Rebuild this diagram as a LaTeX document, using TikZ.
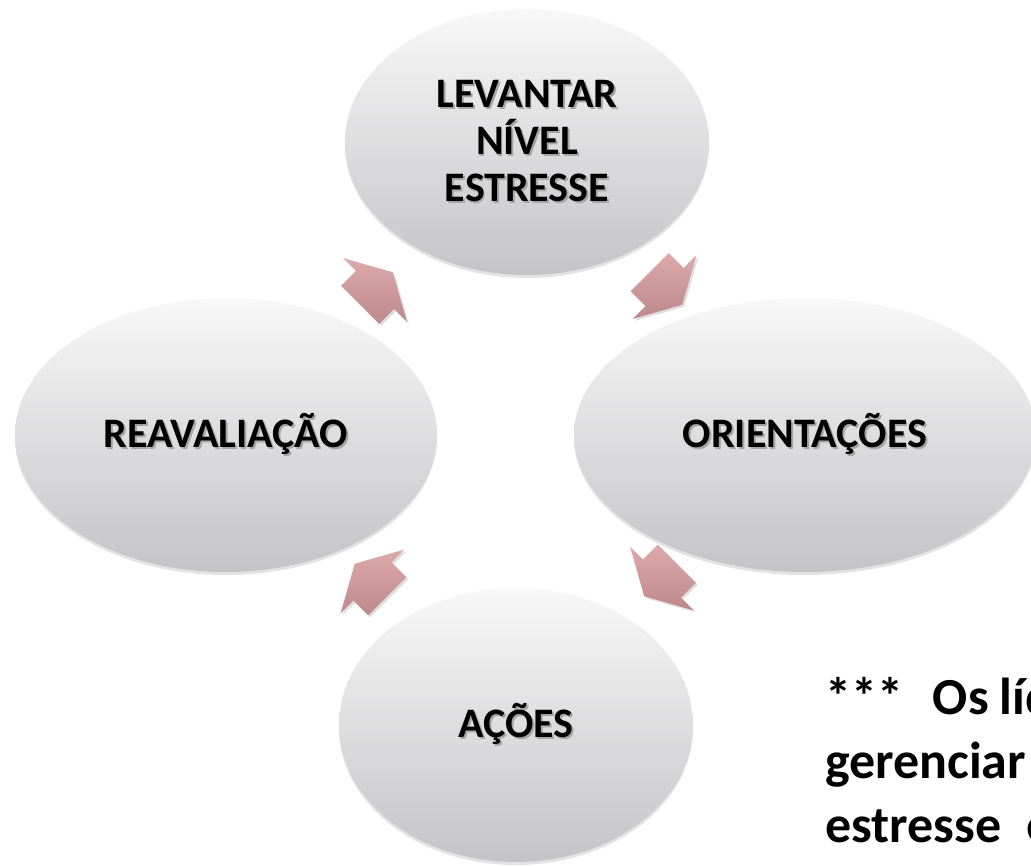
\documentclass[tikz,border=0pt]{standalone}
\usepackage{fontspec}
\setmainfont{Carlito}
\usetikzlibrary{shapes.geometric,shadows,calc}

\definecolor{ellTop}{RGB}{248,248,249}
\definecolor{ellMid}{RGB}{233,233,234}
\definecolor{ellBot}{RGB}{196,196,198}
\definecolor{arrTop}{RGB}{221,170,172}
\definecolor{arrBot}{RGB}{189,136,140}
\newcommand{\shd}[1]{\rlap{\kern1.8pt\raisebox{-1.8pt}{\color{black!35}#1}}#1}

\tikzset{cycarrow/.pic={\path[cyc] (-23,27) -- (-2,27) -- (-2,45) -- (23,0) -- (-2,-45) -- (-2,-27) -- (-23,-27) -- cycle;}}

\begin{document}
\begin{tikzpicture}[x=1pt,y=1pt,bubble/.style={shape=ellipse,inner sep=0pt,top color=ellTop,middle color=ellMid,bottom color=ellBot,drop shadow={opacity=0.22,shadow xshift=0pt,shadow yshift=-3pt},font=\fontsize{42}{47}\selectfont\bfseries,align=center},cyc/.style={top color=arrTop,bottom color=arrBot,drop shadow={opacity=0.25,shadow xshift=2pt,shadow yshift=-2pt}},note/.style={anchor=base west,inner sep=0pt,font=\fontsize{52}{64}\selectfont\bfseries}]

\useasboundingbox (0,0) rectangle (1031,866);

\node[bubble,minimum width=364pt,minimum height=266pt] (lev) at (527,724) {\shd{LEVANTAR}\\\shd{NÍVEL}\\\shd{ESTRESSE}};
\node[bubble,minimum width=462pt,minimum height=274pt] (ori) at (805,431) {\shd{ORIENTAÇÕES}};
\node[bubble,minimum width=354pt,minimum height=274pt] (aco) at (516,141) {\shd{AÇÕES}};
\node[bubble,minimum width=422pt,minimum height=274pt] (rea) at (226,431) {\shd{REAVALIAÇÃO}};

% arrows of the cycle
\pic[rotate=-45] (a1) at ($(lev)!0.5!(ori)$) {cycarrow};
\pic[rotate=-135] (a2) at ($(ori)!0.5!(aco)$) {cycarrow};
\pic[rotate=135] (a3) at ($(aco)!0.5!(rea)$) {cycarrow};
\pic[rotate=45] (a4) at ($(rea)!0.5!(lev)$) {cycarrow};

\node[note] (n1) at (825,151) {***\hspace{30pt}Os\hspace{11pt}líd};
\node[note] (n2) at (825,87) {gerenciar};
\node[note] (n3) at (825,23) {estresse\hspace{25pt}e};

\end{tikzpicture}
\end{document}
